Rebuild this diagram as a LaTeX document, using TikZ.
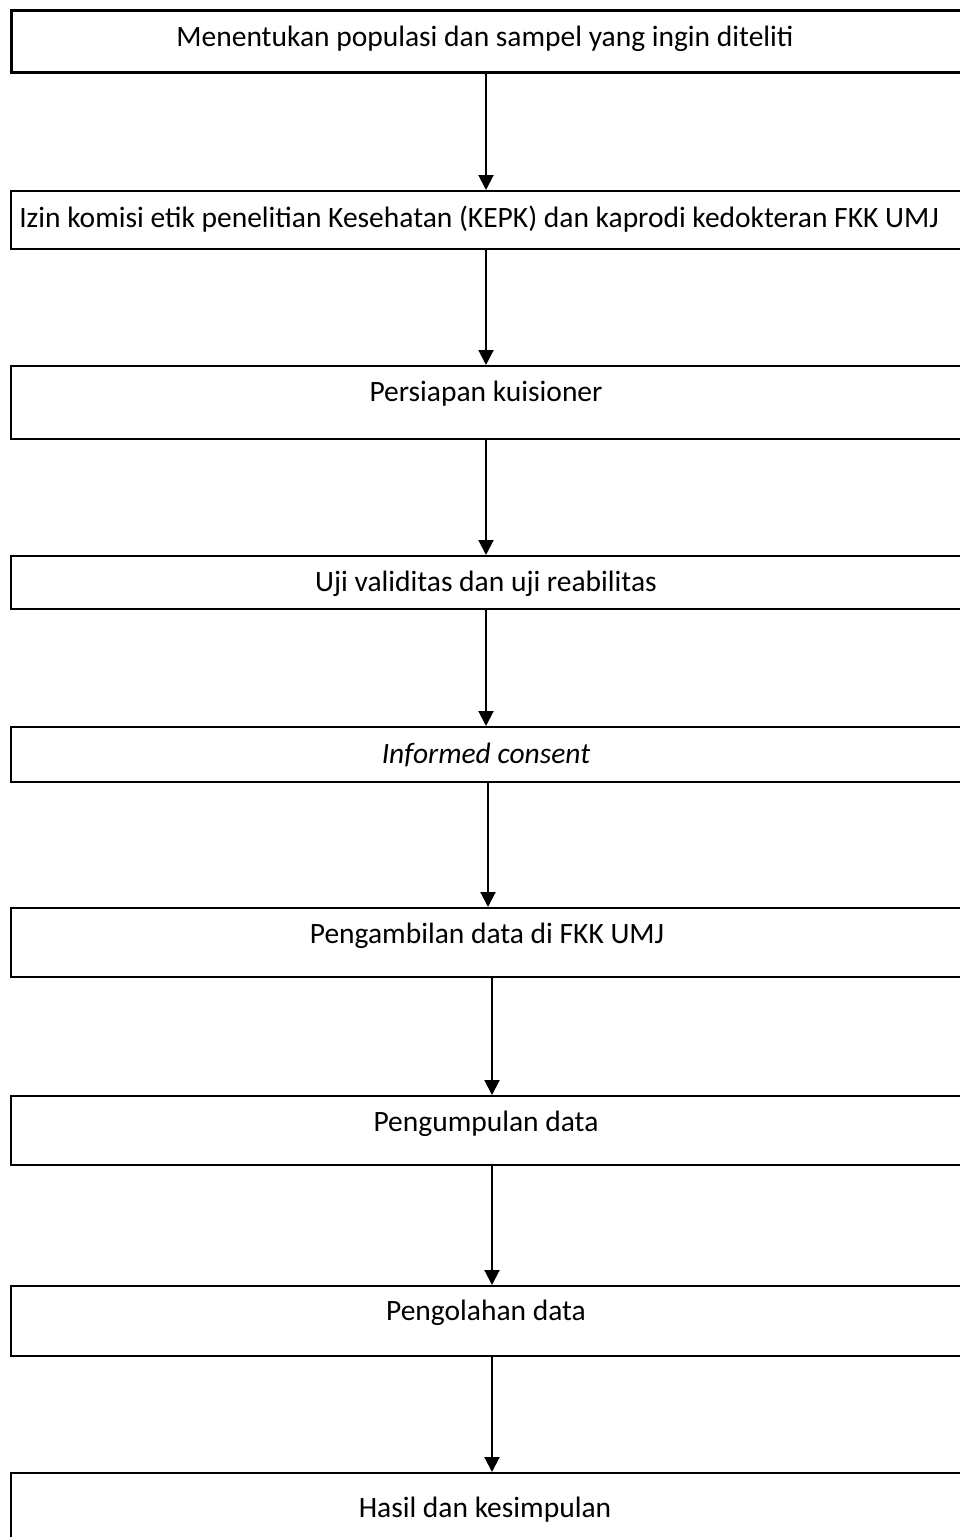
\documentclass[tikz,border=0pt]{standalone}
\usepackage{fontspec}
\setmainfont{Carlito}
\usetikzlibrary{arrows.meta}
\begin{document}
\begin{tikzpicture}[x=1pt,y=-1pt,
  box/.style={draw=black,line width=2pt,rectangle,inner sep=0pt,minimum width=951pt,anchor=north west},
  lbl/.style={inner sep=0pt,anchor=center,font=\fontsize{29.5}{34}\selectfont},
  arr/.style={draw=black,line width=2pt,-{Triangle[width=15pt,length=15pt]}}]
\useasboundingbox (0,0) rectangle (959,1537);
\node[box,line width=3pt,minimum height=62pt] (b1) at (10,9) {};
\node[box,minimum height=58pt] (b2) at (10,190) {};
\node[box,minimum height=73pt] (b3) at (10,365) {};
\node[box,minimum height=53pt] (b4) at (10,555) {};
\node[box,minimum height=55pt] (b5) at (10,726) {};
\node[box,minimum height=69pt] (b6) at (10,907) {};
\node[box,minimum height=69pt] (b7) at (10,1095) {};
\node[box,minimum height=70pt] (b8) at (10,1285) {};
\node[box,minimum height=90pt] (b9) at (10,1472) {};
\node[lbl] (t1) at (485,39) {Menentukan populasi dan sampel yang ingin diteliti};
\node[lbl] (t2) at (479,219) {Izin komisi etik penelitian Kesehatan (KEPK) dan kaprodi kedokteran FKK UMJ};
\node[lbl] (t3) at (486,394) {Persiapan kuisioner};
\node[lbl] (t4) at (486,584) {Uji validitas dan uji reabilitas};
\node[lbl] (t5) at (486,755) {\itshape Informed consent};
\node[lbl] (t6) at (487,936) {Pengambilan data di FKK UMJ};
\node[lbl] (t7) at (486,1124) {Pengumpulan data};
\node[lbl] (t8) at (486,1313) {Pengolahan data};
\node[lbl] (t9) at (485,1510) {Hasil dan kesimpulan};
\draw[arr] (b1.south -| 486,0) -- (b2.north -| 486,0);
\draw[arr] (b2.south -| 486,0) -- (b3.north -| 486,0);
\draw[arr] (b3.south -| 486,0) -- (b4.north -| 486,0);
\draw[arr] (b4.south -| 486,0) -- (b5.north -| 486,0);
\draw[arr] (b5.south -| 488,0) -- (b6.north -| 488,0);
\draw[arr] (b6.south -| 492,0) -- (b7.north -| 492,0);
\draw[arr] (b7.south -| 492,0) -- (b8.north -| 492,0);
\draw[arr] (b8.south -| 492,0) -- (b9.north -| 492,0);
\end{tikzpicture}
\end{document}
